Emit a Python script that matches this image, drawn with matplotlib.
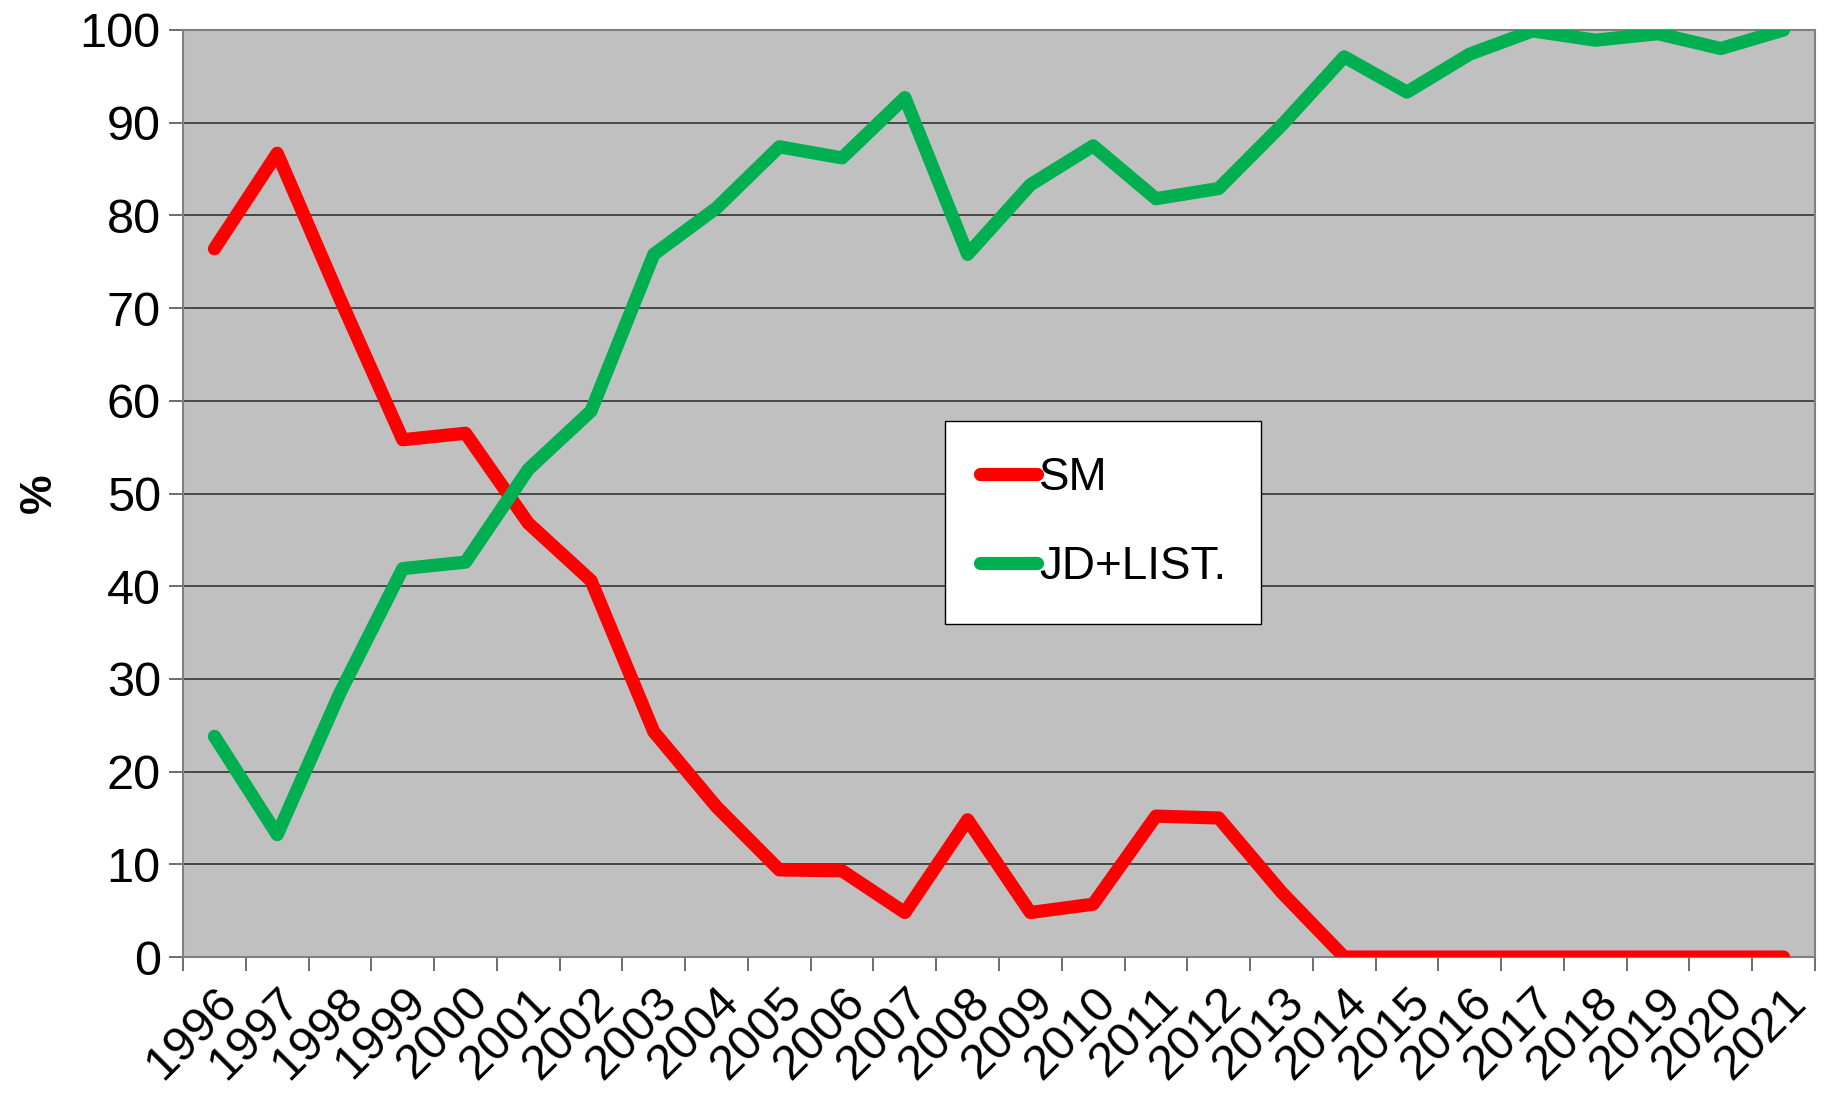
import matplotlib.pyplot as plt
import numpy as np

years = [str(y) for y in range(1996, 2022)]
sm = [76.4, 86.7, 71.0, 55.8, 56.5, 46.8, 40.6, 24.3, 16.2, 9.4, 9.3, 4.8, 14.8,
      4.8, 5.7, 15.2, 15.0, 7.0, 0, 0, 0, 0, 0, 0, 0, 0]
jd_list = [23.8, 13.2, 28.5, 41.9, 42.6, 52.6, 58.9, 75.8, 80.8, 87.4, 86.2, 92.7, 75.8,
           83.3, 87.5, 81.8, 82.9, 89.7, 97.1, 93.3, 97.4, 99.9, 98.9, 99.6, 98.0, 100]

plt.rcParams['font.family'] = ['Liberation Sans', 'DejaVu Sans']

fig = plt.figure(figsize=(18.27, 10.94), dpi=100)
ax = fig.add_axes([0.1002, 0.1252, 0.8932, 0.8474])
ax.set_facecolor('#c0c0c0')

x = np.arange(len(years))
ax.plot(x, sm, color='#ff0000', lw=9.5, solid_capstyle='round', solid_joinstyle='round', label='SM', zorder=3)
ax.plot(x, jd_list, color='#00b050', lw=9.5, solid_capstyle='round', solid_joinstyle='round', label='JD+LIST.', zorder=3)

ax.set_xlim(-0.5, len(years) - 0.5)
ax.set_ylim(0, 100)
ax.set_yticks(np.arange(0, 101, 10))
ax.yaxis.grid(True, color='#333333', lw=1.2)
ax.set_axisbelow(True)

ax.set_xticks(x)
ax.set_xticklabels(years, rotation=45, ha='right', rotation_mode='anchor', fontsize=35)
ax.set_xticks(np.arange(-0.5, len(years)), minor=True)
ax.tick_params(axis='x', which='major', length=0, pad=16)
ax.tick_params(axis='x', which='minor', length=10, width=1.2, color='#555555')
ax.tick_params(axis='y', length=10, width=1.2, color='#555555', labelsize=35, pad=6)

for s in ['left', 'bottom', 'top', 'right']:
    ax.spines[s].set_color('#808080')
    ax.spines[s].set_linewidth(1.5)

ax.set_ylabel('%', fontsize=32, fontweight='bold', labelpad=14)

leg = ax.legend(loc='upper left', bbox_to_anchor=(0.467, 0.578), fontsize=33,
                frameon=True, fancybox=False, edgecolor='black', framealpha=1,
                handlelength=1.25, handletextpad=0.05, labelspacing=1.0,
                borderpad=0.75, borderaxespad=0)
leg.get_frame().set_linewidth(1.0)

fig.savefig('out.png', dpi=100)
